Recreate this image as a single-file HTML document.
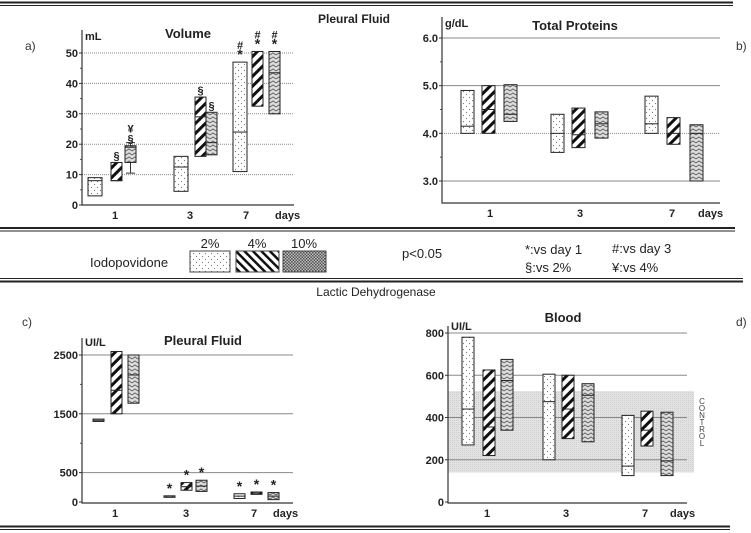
<!DOCTYPE html>
<html><head><meta charset="utf-8">
<style>
html,body{margin:0;padding:0;background:#fff;}
svg{display:block;font-family:"Liberation Sans",Arial,sans-serif;}
.t{font-weight:bold;fill:#222;}
.tk{font-weight:bold;font-size:11px;fill:#222;font-family:"Liberation Sans Narrow","Liberation Sans",sans-serif;}
</style></head>
<body>
<svg id="fig" width="751" height="533" viewBox="0 0 751 533" xmlns="http://www.w3.org/2000/svg">
<defs>
<pattern id="pDots" width="6" height="6" patternUnits="userSpaceOnUse">
<rect width="6" height="6" fill="#fff"/><circle cx="1.5" cy="1.5" r="0.6" fill="#777"/><circle cx="4.5" cy="4.5" r="0.6" fill="#777"/>
</pattern>
<pattern id="pStripe" width="7" height="7" patternUnits="userSpaceOnUse" patternTransform="rotate(45)">
<rect width="7" height="7" fill="#fff"/><rect x="0" y="0" width="3" height="7" fill="#111"/>
</pattern>
<pattern id="pStripeL" width="6" height="6" patternUnits="userSpaceOnUse" patternTransform="rotate(-45)">
<rect width="6" height="6" fill="#fff"/><rect x="0" y="0" width="2.5" height="6" fill="#111"/>
</pattern>
<pattern id="pZig" width="6" height="4" patternUnits="userSpaceOnUse">
<rect width="6" height="4" fill="#ddd"/><polyline points="0,3 3,1 6,3" fill="none" stroke="#666" stroke-width="1"/>
</pattern>
<pattern id="pCross" width="3" height="3" patternUnits="userSpaceOnUse">
<rect width="3" height="3" fill="#bbb"/><rect width="1.5" height="1.5" fill="#555"/><rect x="1.5" y="1.5" width="1.5" height="1.5" fill="#555"/>
</pattern>
<pattern id="pCtrl" width="2" height="2" patternUnits="userSpaceOnUse">
<rect width="2" height="2" fill="#e2e2e2"/><rect width="1" height="1" fill="#cfcfcf"/>
</pattern>
</defs>

<g stroke="#222">
<line x1="0" y1="2.5" x2="733" y2="2.5" stroke-width="2"/><line x1="0" y1="5.5" x2="733" y2="5.5" stroke-width="1"/>
<line x1="0" y1="228" x2="735" y2="228" stroke-width="2"/><line x1="0" y1="231" x2="735" y2="231" stroke-width="1"/>
<line x1="0" y1="278.5" x2="743" y2="278.5" stroke-width="1"/><line x1="0" y1="281.5" x2="743" y2="281.5" stroke-width="2"/>
<line x1="0" y1="526.5" x2="730" y2="526.5" stroke-width="2"/><line x1="0" y1="529.5" x2="730" y2="529.5" stroke-width="1"/>
</g>
<text class="t" x="354" y="23" font-size="12" text-anchor="middle">Pleural Fluid</text>
<text x="376" y="296" font-size="12" text-anchor="middle" fill="#222">Lactic Dehydrogenase</text>

<g font-size="13" fill="#222">
<text x="90" y="267">Iodopovidone</text>
<text x="210" y="248" text-anchor="middle">2%</text>
<text x="257" y="248" text-anchor="middle">4%</text>
<text x="304" y="248" text-anchor="middle">10%</text>
<rect x="190" y="251" width="40" height="21" fill="url(#pDots)" stroke="#444"/>
<rect x="236" y="251" width="43" height="21" fill="url(#pStripeL)" stroke="#444"/>
<rect x="283" y="251" width="43" height="21" fill="url(#pCross)" stroke="#444"/>
<text x="402" y="258">p&lt;0.05</text>
<text x="525" y="254">*:vs day 1</text>
<text x="525" y="272">§:vs 2%</text>
<text x="612" y="253">#:vs day 3</text>
<text x="612" y="272">¥:vs 4%</text>
</g>

<g id="panels"></g>
</svg>
<script>
var NS="http://www.w3.org/2000/svg";
var categories=["1","3","7"];
var seriesNames=["2%","4%","10%"];
// Panel a: Volume (mL)  [series][day]
var aTicks=[0,10,20,30,40,50];
var aLow=[[3,4.5,11],[8,16,32.5],[14,16.5,30]];
var aHigh=[[9,16,47],[14,35.5,50.5],[19.5,30.5,50.5]];
var aMed=[[8,12.5,24],[8,29,50.5],[19,20.5,43.5]];
var aWhiskLow=[[null,null,null],[null,null,null],[10.5,null,null]];
var aWhiskHigh=[[null,null,null],[null,null,null],[20.5,null,null]];
var aMarks=[["","","#*"],["§","§","#*"],["¥§","§","#*"]];
// Panel b: Total proteins (g/dL)
var bTicks=[3.0,4.0,5.0,6.0];
var bLow=[[4.0,3.6,4.0],[4.0,3.7,3.77],[4.25,3.9,3.0]];
var bHigh=[[4.9,4.4,4.78],[5.0,4.53,4.33],[5.02,4.45,4.18]];
var bMed=[[4.15,4.0,4.2],[4.5,3.97,4.0],[4.4,4.2,4.0]];
// Panel c: LDH pleural fluid
var cTicks=[0,500,1500,2500];
var cLow=[[1370,95,60],[1500,200,130],[1680,180,40]];
var cHigh=[[1410,105,140],[2560,330,170],[2500,370,160]];
var cMed=[[1390,100,100],[1900,260,150],[2160,270,100]];
var cMarks=[["","*","*"],["","*","*"],["","*","*"]];
// Panel d: LDH blood
var dTicks=[0,200,400,600,800];
var dLow=[[270,200,125],[220,300,265],[340,285,125]];
var dHigh=[[780,605,410],[625,600,430],[675,560,425]];
var dMed=[[440,475,170],[355,440,340],[575,505,195]];
var dControl=[140,525];

var fills=["url(#pDots)","url(#pStripe)","url(#pZig)"];
var root=document.getElementById('panels');
function mk(tag,attrs,parent){var e=document.createElementNS(NS,tag);for(var k in attrs)e.setAttribute(k,attrs[k]);(parent||root).appendChild(e);return e;}
function lin(d0,d1,r0,r1){return function(v){return r0+(v-d0)*(r1-r0)/(d1-d0);};}

function panel(cfg){
  var g=mk('g',{});
  
  
  var y=cfg.y;
  if(cfg.band){var b=mk('rect',{x:cfg.x0,y:y(cfg.band[1]),width:cfg.bandX1-cfg.x0,height:y(cfg.band[0])-y(cfg.band[1]),fill:'url(#pCtrl)'},g);
    
    }
  cfg.ticks.forEach(function(t){
    if(cfg.grid.indexOf(t)>=0){var l=mk('line',{x1:cfg.x0,x2:cfg.x1,y1:y(t),y2:y(t),stroke:cfg.gridColor||'#888','stroke-width':1,'stroke-dasharray':cfg.dash&&cfg.dash(t)?'1,1':'none'},g);
      
      }
    var tx=mk('text',{x:cfg.x0-4,y:y(t)+4,'text-anchor':'end','class':'tk'},g);
    tx.textContent=cfg.fmt?cfg.fmt(t):t;
    
    
    mk('line',{x1:cfg.x0-3,x2:cfg.x0,y1:y(t),y2:y(t),stroke:'#333'},g);
  });
  (cfg.minor||[]).forEach(function(t){mk('line',{x1:cfg.x0-2,x2:cfg.x0,y1:y(t),y2:y(t),stroke:'#555'},g);});
  var ax=mk('path',{d:'M'+cfg.x0+' '+cfg.yTop+'V'+cfg.yBot+'H'+cfg.x1,fill:'none',stroke:'#333','stroke-width':1.2},g);
  
  
  categories.forEach(function(c,i){
    var t=mk('text',{x:cfg.catX[i],y:cfg.yBot+14,'text-anchor':'middle','class':'tk','font-size':12},g);
    t.textContent=c;
    
    
  });
  var dl=mk('text',{x:cfg.daysX,y:cfg.yBot+14,'class':'tk','font-size':12},g);dl.textContent='days';
  
  
  var u=mk('text',{x:cfg.x0+3,y:cfg.unitY,'class':'tk'},g);u.textContent=cfg.unit;
  
  
  var tt=mk('text',{x:cfg.titleX,y:cfg.titleY,'text-anchor':'middle','class':'t','font-size':13},g);tt.textContent=cfg.title;
  
  
  var pl=mk('text',{x:cfg.labX,y:cfg.labY,'font-size':12,fill:'#333'},g);pl.textContent=cfg.lab;
  
  
  for(var s=0;s<3;s++){for(var i=0;i<3;i++){
    var bx=cfg.boxX[s][i],w=cfg.boxW[s];
    var lo=cfg.low[s][i],hi=cfg.high[s][i],md=cfg.med[s][i];
    if(cfg.wl&&cfg.wl[s][i]!=null){
      var wl=mk('path',{d:'M'+(bx+w/2)+' '+y(cfg.wl[s][i])+'V'+y(cfg.wh[s][i])+'M'+(bx+1)+' '+y(cfg.wl[s][i])+'H'+(bx+w-1)+'M'+(bx+1)+' '+y(cfg.wh[s][i])+'H'+(bx+w-1),stroke:'#333',fill:'none'},g);
      
      
    }
    var r=mk('rect',{x:bx,y:y(hi),width:w,height:Math.max(1.5,y(lo)-y(hi)),fill:fills[s],stroke:'#222','stroke-width':1},g);
    
    
    var m=mk('line',{x1:bx,x2:bx+w,y1:y(md),y2:y(md),stroke:'#222','stroke-width':1},g);
    
    
    if(cfg.marks&&cfg.marks[s][i]){
      var chars=cfg.marks[s][i].split('');
      chars.forEach(function(ch,k){
        var mt=mk('text',{x:bx+w/2,y:y(hi)-3-(chars.length-1-k)*10,'text-anchor':'middle','class':'t','font-size':ch=='*'?14:11},g);
        mt.textContent=ch;
        
        
      });
    }
  }}
}

panel({name:'panel-a-volume',y:lin(0,50,205,53),ticks:aTicks,grid:[10,20,30,40,50],dash:function(t){return true;},minor:[5,15,25,35,45],
 x0:82,x1:294,yTop:30,yBot:205,catX:[115,190,246],daysX:275,unit:'mL',unitY:40,title:'Volume',titleX:188,titleY:38,lab:'a)',labX:25,labY:50,
 low:aLow,high:aHigh,med:aMed,wl:aWhiskLow,wh:aWhiskHigh,marks:aMarks,boxW:[14,11,11],
 boxX:[[88,174,233],[111,195,252],[125,206,269]]});
panel({name:'panel-b-total-proteins',y:lin(3,6,181,38),ticks:bTicks,grid:[3,4,5,6],dash:function(t){return t==4;},minor:[3.5,4.5,5.5],
 fmt:function(t){return t.toFixed(1);},
 x0:442,x1:720,yTop:17,yBot:203,catX:[490,580,672],daysX:698,unit:'g/dL',unitY:27,title:'Total Proteins',titleX:575,titleY:30,lab:'b)',labX:736,labY:50,
 low:bLow,high:bHigh,med:bMed,boxW:[13,13,13],
 boxX:[[461,551,645],[482,572,667],[504,595,690]]});
panel({name:'panel-c-ldh-pleural',y:lin(0,2500,502,355),ticks:cTicks,grid:[500,1500,2500],minor:[1000,2000],
 x0:82,x1:293,yTop:338,yBot:503,catX:[115,186,254],daysX:273,unit:'UI/L',unitY:346,title:'Pleural Fluid',titleX:203,titleY:345,lab:'c)',labX:22,labY:326,
 low:cLow,high:cHigh,med:cMed,marks:cMarks,boxW:[11,11,11],
 boxX:[[93,164,234],[111,181,251],[128,196,268]]});
panel({name:'panel-d-ldh-blood',y:lin(0,800,502,333),ticks:dTicks,grid:[200,400,600,800],band:dControl,bandX1:694,
 x0:448,x1:687,yTop:326,yBot:503,catX:[487,566,645],daysX:670,unit:'UI/L',unitY:330,title:'Blood',titleX:563,titleY:322,lab:'d)',labX:736,labY:326,
 low:dLow,high:dHigh,med:dMed,boxW:[12,12,12],
 boxX:[[462,543,622],[483,562,641],[501,582,661]]});
var ct=mk('text',{x:702,y:404,'font-size':8,fill:'#444','text-anchor':'middle'});


"CONTROL".split('').forEach(function(ch,k){var ts=document.createElementNS(NS,'tspan');ts.setAttribute('x',702);ts.setAttribute('dy',k?7:0);ts.textContent=ch;ct.appendChild(ts);});
</script>
</body></html>
